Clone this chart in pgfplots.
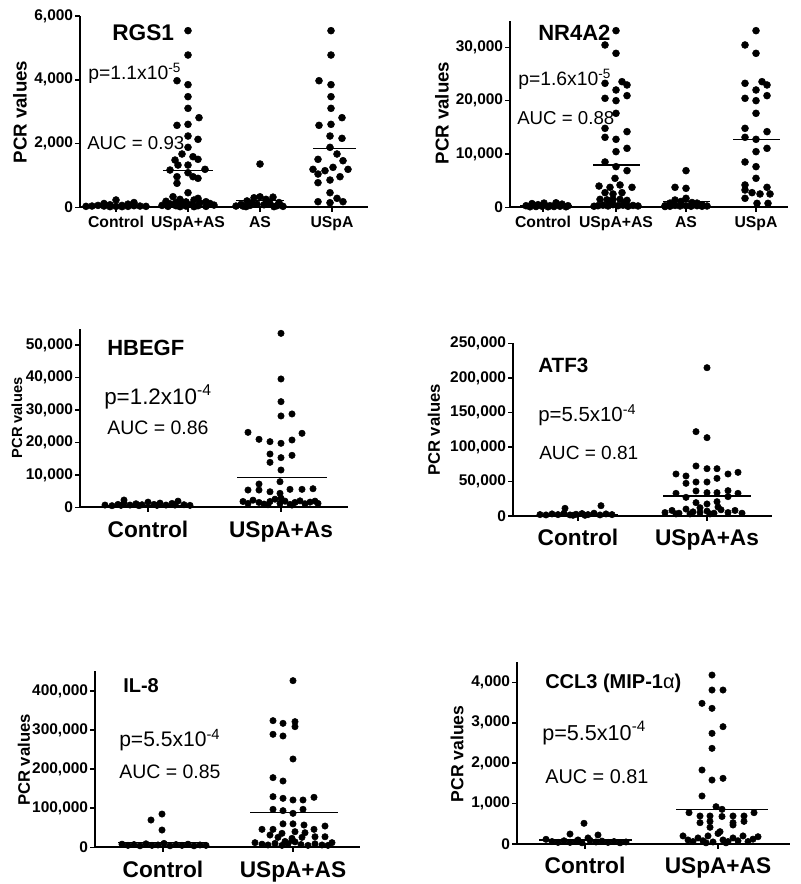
\documentclass[border=0pt]{standalone}
\usepackage{pgfplots}
\pgfplotsset{compat=1.18}
\usepackage{fontspec}
\setmainfont{Liberation Sans}
\newcommand{\fs}[1]{\fontsize{#1}{#1}\selectfont}
\newcommand{\tx}[4]{\node[anchor=west, inner sep=0pt, font=#3] at ({#1*0.75pt},{663pt-#2*0.75pt}) {#4};}
\newcommand{\yl}[3]{\node[rotate=90, inner sep=0pt, font=\bfseries\fs{#3}] at ({#1*0.75pt},{663pt-#2*0.75pt}) {PCR values};}
\pgfplotsset{
 panel/.style={scale only axis, axis lines=left, axis line style={line width=1.5pt,-},
   anchor=south west, tick align=outside, major tick length=3.5pt,
   tick style={black, line width=1.2pt}, clip=false, ymin=0,
   yticklabel style={font=\bfseries\fs{11.6}, inner sep=1.5pt},
   xticklabel style={font=\bfseries\fs{11.8}, text height=1.5ex, text depth=0.3ex}, scaled y ticks=false},
 big/.style={xticklabel style={font=\bfseries\fs{17}, yshift=-7.5pt}},
 dots/.style={only marks, mark=*, mark size=2.6pt, black},
 sdots/.style={only marks, mark=*, mark size=2.4pt, black},
 mline/.style={black, line width=0.8pt, no marks},
}
\begin{document}
\begin{tikzpicture}
\path[use as bounding box] (0,0) rectangle (600pt,663pt);
% ---------------- RGS1
\begin{axis}[panel, at={(60pt,507.5pt)}, width=216pt, height=143.5pt,
  xmin=80, xmax=368, ymax=6000, xtick={116,188,260,332}, xticklabels={Control,USpA+AS,AS,USpA},
  ytick={0,2000,4000,6000}, yticklabels={0,{2,000},{4,000},{6,000}}]
\addplot[dots] coordinates {(98,60) (104,40) (110,80) (116,30) (116,230) (122,60) (128,100) (134,50) (92,40) (110,20) (122,20) (128,30) (140,40) (86,30) (146,30) (104,120) (134,150)};
\addplot[mline] coordinates {(90,60) (140,60)};
\addplot[dots] coordinates {(188,5540) (188,4776) (177,3970) (188,3846) (188,3470) (188,3104) (199,2811) (177,2571) (188,2602)
 (188,2236) (198,2132) (188,1881) (182,1672) (193,1587) (175,1483) (198,1505) (178,1326) (188,1326) (170,1170) (205,1192) (188,1085) (177,960) (193,960) (198,909) (177,753)
 (188,458) (173,333) (198,282) (180,250) (194,230) (166,190) (206,176) (176,150) (200,144) (186,170) (170,110) (210,120) (182,100) (192,90) (162,60) (214,70) (176,50) (198,50) (186,40) (168,30) (206,30) (180,20) (194,20) (188,80)};
\addplot[mline] coordinates {(163,1160) (213,1160)};
\addplot[dots] coordinates {(260,1358) (241,90) (247,200) (254,300) (260,330) (266,250) (273,320) (279,150) (236,40) (243,40) (250,60) (257,100) (264,80) (270,120) (277,50) (283,30) (252,150) (268,180) (246,20) (274,20)};
\addplot[mline] coordinates {(236,207) (284,207)};
\addplot[dots] coordinates {(331,5540) (331,4776) (319,3970) (331,3846) (331,3470) (331,3104) (342,2811) (319,2571) (331,2602) (330,2236) (342,2163) (330,1881) (337,1672) (318,1505) (343,1461) (313,1191) (325,1148) (333,1254) (348,1191) (318,1044) (340,960) (330,856) (318,772) (330,458) (337,282) (318,176) (330,144) (343,176)};
\addplot[mline] coordinates {(313,1830) (356,1830)};
\end{axis}
% ---------------- NR4A2
\begin{axis}[panel, at={(382.5pt,507.5pt)}, width=208.5pt, height=140pt,
  xmin=510, xmax=788, ymax=35000, xtick={543,616,686,756}, xticklabels={Control,USpA+AS,AS,USpA},
  ytick={0,10000,20000,30000}, yticklabels={0,{10,000},{20,000},{30,000}}]
\addplot[dots] coordinates {(526,300) (532,700) (538,500) (544,800) (550,300) (556,850) (562,600) (568,300) (530,100) (536,150) (542,200) (548,100) (554,150) (560,200) (566,100)};
\addplot[mline] coordinates {(520,300) (572,300)};
\addplot[dots] coordinates {(616,33125) (605,30440) (616,28875) (605,23250) (622,23560) (627,22940) (616,22000) (605,20440) (616,20000) (627,20940) (616,17625) (605,14810) (627,14190) (605,13125) (616,12750) (627,11060) (616,10440) (605,8500) (616,7625)
 (627,6875) (615,5440) (599,3990) (610,3750) (620,4190) (632,3750) (605,2750) (613,2500) (622,2750) (600,1500) (607,1400) (613,1500) (620,1500) (627,1300) (598,300) (603,400) (608,250) (613,500) (618,300) (623,400) (628,200) (633,350) (638,250) (594,200) (611,1000) (625,900)};
\addplot[mline] coordinates {(593,7940) (640,7940)};
\addplot[dots] coordinates {(686,6875) (675,3750) (686,3560) (675,1370) (686,1690) (681,1100) (670,800) (692,900) (697,800) (702,500) (665,300) (670,200) (675,350) (680,250) (686,300) (691,200) (697,300) (702,200) (707,250) (665,150)};
\addplot[mline] coordinates {(663,1060) (710,1060)};
\addplot[dots] coordinates {(756,33125) (745,30440) (756,28875) (745,23250) (762,23560) (767,22940) (756,22000) (745,20440) (756,20000) (767,20940) (756,17625) (745,14810) (767,14190) (745,13125) (756,12750) (767,11060) (756,10440) (745,8500) (756,7625) (756,5440) (745,4190) (767,3750) (745,3250) (752,2750) (760,2500) (770,2500) (745,1690) (757,750) (768,750)};
\addplot[mline] coordinates {(733,12750) (780,12750)};
\end{axis}
% ---------------- HBEGF
\begin{axis}[panel, big, at={(60pt,282.5pt)}, width=201pt, height=133.9pt,
  xmin=80, xmax=348, ymax=55000, xtick={148,281}, xticklabels={Control,USpA+As},
  ytick={0,10000,20000,30000,40000,50000}, yticklabels={0,{10,000},{20,000},{30,000},{40,000},{50,000}}]
\addplot[sdots] coordinates {(105,700) (112,500) (118,900) (124,1400) (130,700) (136,1100) (142,800) (148,1600) (154,900) (160,1300) (166,700) (172,1200) (178,1900) (184,800) (190,600) (121,600) (139,500) (157,600) (175,700) (124,2250)};
\addplot[mline] coordinates {(105,700) (192,700)};
\addplot[sdots] coordinates {(281,53600) (281,39540) (281,32550) (281,28140) (292,28760) (248,23100) (302,22800) (259,20950) (270,20230) (281,19720) (292,20740) (270,16430) (281,15300) (292,16020) (270,13860) (281,11500) (280,7890) (259,7180) (259,5330) (248,5330) (270,4800) (280,4310) (290,5540) (302,5540) (313,5730)
 (243,1800) (248,1200) (253,2200) (259,1500) (264,1000) (270,1800) (275,2500) (280,1200) (285,1900) (290,900) (295,1500) (300,2000) (305,1100) (310,1600) (315,1900) (318,1200) (268,800) (292,700) (281,2800)};
\addplot[mline] coordinates {(237,9120) (327,9120)};
\end{axis}
% ---------------- ATF3
\begin{axis}[panel, big, at={(384.75pt,276pt)}, width=194.25pt, height=129.5pt,
  xmin=513, xmax=772, ymax=250000, xtick={578,707}, xticklabels={Control,USpA+As},
  ytick={0,50000,100000,150000,200000,250000}, yticklabels={0,{50,000},{100,000},{150,000},{200,000},{250,000}}]
\addplot[sdots] coordinates {(565,11100) (601,14900) (540,2000) (546,1500) (552,3000) (558,2000) (564,4000) (570,1500) (576,2500) (582,3500) (588,2000) (594,4000) (600,1500) (606,3000) (612,2000) (573,1000) (585,1000)};
\addplot[mline] coordinates {(540,2500) (618,2500)};
\addplot[sdots] coordinates {(707,214700) (696,122100) (707,113400) (696,72400) (707,68500) (717,68500) (676,60800) (738,63200) (686,57900) (728,60800) (686,47300) (696,49200) (707,49200) (717,54500) (696,36200) (707,33800) (717,33800) (728,36700) (676,32800) (738,32800) (686,27000) (696,19300) (707,17400) (717,20700) (728,28000)
 (665,5000) (672,8000) (679,4000) (686,10000) (693,6000) (700,12000) (707,7000) (714,4000) (721,9000) (728,5000) (735,8000) (742,4000) (690,3000) (710,3000) (700,5000) (718,13000) (676,3000)};
\addplot[mline] coordinates {(663,28950) (751,28950)};
\end{axis}
% ---------------- IL-8
\begin{axis}[panel, big, at={(71.25pt,27.5pt)}, width=198.75pt, height=131.9pt,
  xmin=95, xmax=360, ymax=450000, xtick={163,293}, xticklabels={Control,USpA+AS},
  ytick={0,100000,200000,300000,400000}, yticklabels={0,{100,000},{200,000},{300,000},{400,000}}]
\addplot[sdots] coordinates {(151,69900) (162,85200) (162,44300) (122,8000) (128,5000) (134,7000) (140,4000) (146,9000) (152,5000) (158,6000) (164,10000) (170,4000) (176,7000) (182,5000) (188,8000) (194,4000) (200,6000) (206,5000)};
\addplot[mline] coordinates {(118,12800) (207,12800)};
\addplot[sdots] coordinates {(293,426500) (273,324100) (283,317300) (295,321600) (295,308800) (273,289200) (283,284900) (293,226000) (273,178300) (283,169700) (273,129700) (283,125400) (293,121100) (303,121100) (314,128000) (273,97200) (283,93800) (293,87000) (303,97200)
 (283,60100) (293,60100) (304,57100) (273,46000) (314,46000) (325,54500) (262,46000) (282,35800) (295,40000) (305,37400) (270,31500) (302,25600) (315,27100) (325,27100) (278,25600) (292,23000)
 (255,12000) (262,8000) (268,6000) (275,10000) (282,5000) (288,9000) (295,14000) (301,7000) (308,5000) (315,9000) (322,6000) (328,5000) (332,12000) (292,18000) (285,15000)};
\addplot[mline] coordinates {(250,88500) (338,88500)};
\end{axis}
% ---------------- CCL3
\begin{axis}[panel, big, at={(387.75pt,30pt)}, width=204.75pt, height=136.4pt,
  xmin=517, xmax=790, ymax=4500, xtick={585,718}, xticklabels={Control,USpA+AS},
  ytick={0,1000,2000,3000,4000}, yticklabels={0,{1,000},{2,000},{3,000},{4,000}}]
\addplot[sdots] coordinates {(584,512) (570,247) (598,223) (546,116) (552,60) (558,40) (564,80) (576,60) (582,30) (590,90) (596,50) (602,70) (608,40) (614,60) (620,30) (626,50) (588,150) (578,100) (570,40)};
\addplot[mline] coordinates {(539,99) (632,99)};
\addplot[sdots] coordinates {(712,4181) (712,3810) (723,3810) (702,3480) (712,3357) (723,2903) (712,2738) (712,2367) (702,1831) (723,1625) (712,1583) (702,1188) (716,923) (722,858) (689,775) (700,693) (710,693) (722,680) (733,693) (744,693) (754,775) (700,527) (710,560) (733,527) (744,560) (710,413) (733,470) (720,305)
 (683,200) (688,100) (693,60) (698,150) (703,80) (708,200) (713,50) (718,260) (723,100) (728,60) (733,150) (738,80) (743,200) (748,60) (753,120) (758,180) (706,30) (726,30)};
\addplot[mline] coordinates {(676,858) (768,858)};
\end{axis}
% ---------------- texts
\tx{112}{33}{\bfseries\fs{17}}{RGS1}
\tx{88}{73}{\fs{14.5}}{p=1.1x10\textsuperscript{-5}}
\tx{87}{143}{\fs{14}}{AUC = 0.93}
\tx{538}{33}{\bfseries\fs{16.5}}{NR4A2}
\tx{518}{79}{\fs{14.5}}{p=1.6x10\textsuperscript{-5}}
\tx{517}{118}{\fs{14}}{AUC = 0.88}
\tx{107}{348}{\bfseries\fs{16.5}}{HBEGF}
\tx{104}{397}{\fs{16.8}}{p=1.2x10\textsuperscript{-4}}
\tx{107}{428}{\fs{14.6}}{AUC = 0.86}
\tx{538}{365}{\bfseries\fs{15.5}}{ATF3}
\tx{538}{415}{\fs{15.3}}{p=5.5x10\textsuperscript{-4}}
\tx{539}{453}{\fs{14.3}}{AUC = 0.81}
\tx{123}{686}{\bfseries\fs{15}}{IL-8}
\tx{119}{740}{\fs{15.8}}{p=5.5x10\textsuperscript{-4}}
\tx{119}{772}{\fs{14.6}}{AUC = 0.85}
\tx{545}{683}{\bfseries\fs{15}}{CCL3 (MIP-1{\mdseries α})}
\tx{542}{733}{\fs{16.2}}{p=5.5x10\textsuperscript{-4}}
\tx{545}{777}{\fs{14.9}}{AUC = 0.81}
\yl{20}{112}{14}
\yl{442}{113}{14}
\yl{17}{418}{11}
\yl{434}{430}{12.5}
\yl{24}{760}{12.5}
\yl{457}{754}{13.2}
\end{tikzpicture}
\end{document}
